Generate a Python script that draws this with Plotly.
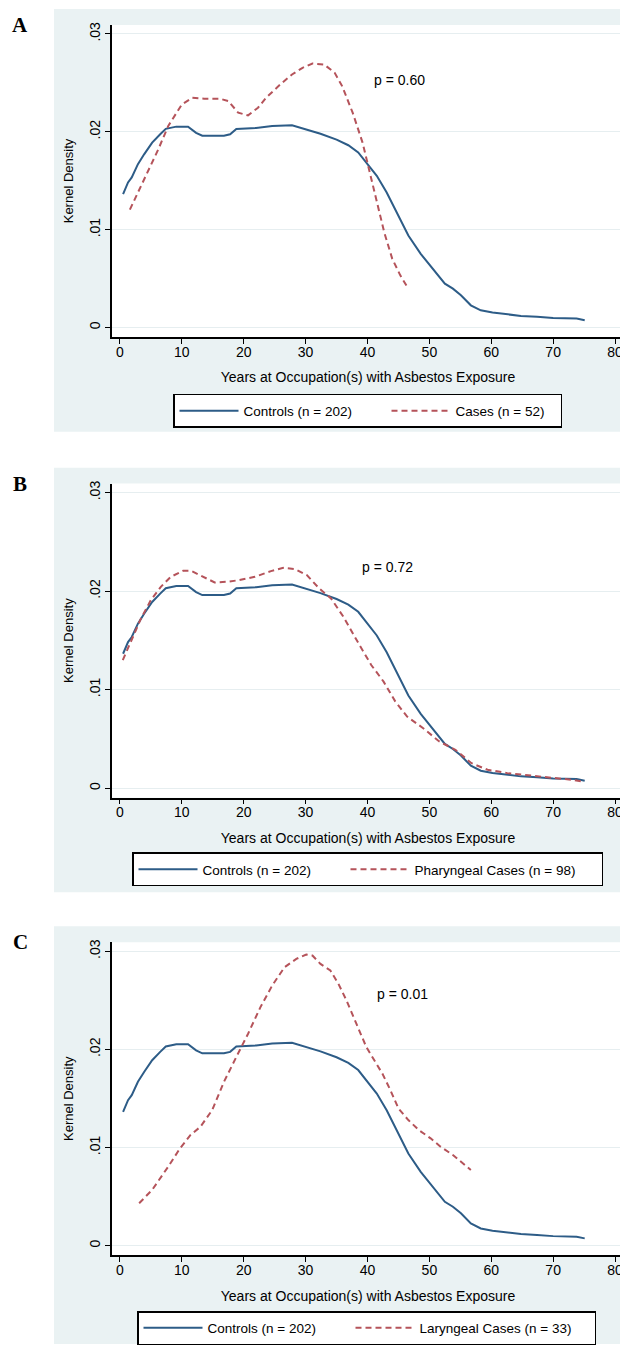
import plotly.graph_objects as go

# ---------------- data ----------------
controls_x = [0.5, 1.3, 1.9, 2.9, 3.9, 5.2, 6.5, 7.4, 9.1, 11.0, 12.3, 13.3, 15.5, 16.8, 17.8, 18.8,
              22.0, 24.6, 27.8, 29.8, 32.4, 35.0, 36.9, 38.5, 40.2, 41.5, 43.1, 44.7, 46.6, 48.6,
              50.5, 52.5, 53.8, 55.1, 56.7, 58.3, 60.2, 62.2, 64.8, 67.4, 70.0, 73.8, 75.1]
controls_y = [0.01364, 0.01483, 0.01534, 0.0167, 0.0177, 0.0189, 0.01975, 0.0203, 0.02053, 0.02053,
              0.0199, 0.0196, 0.0196, 0.0196, 0.01975, 0.0203, 0.0204, 0.0206, 0.02067, 0.0203,
              0.0198, 0.0192, 0.01863, 0.0179, 0.01653, 0.0155, 0.0138, 0.01178, 0.0094, 0.00753,
              0.0060, 0.00448, 0.00397, 0.0033, 0.00227, 0.00176, 0.00153, 0.00136, 0.00119,
              0.00109, 0.00098, 0.00092, 0.00075]

cases_x = [1.6, 3.9, 6.2, 7.8, 10.0, 11.7, 13.6, 16.2, 17.5, 19.1, 20.7, 22.3, 23.6, 25.9, 27.8,
           29.5, 31.1, 33.0, 34.7, 35.9, 37.6, 39.2, 40.5, 41.5, 42.7, 44.0, 45.3, 46.5]
cases_y = [0.01205, 0.01517, 0.01822, 0.0206, 0.0228, 0.02348, 0.02338, 0.02338, 0.02314, 0.02196,
           0.02168, 0.02246, 0.02348, 0.02484, 0.02586, 0.02654, 0.02698, 0.02688, 0.02603,
           0.02467, 0.02196, 0.0189, 0.0155, 0.0128, 0.00974, 0.00702, 0.00533, 0.00407]

pharyngeal_x = [0.45, 1.75, 3.4, 5.0, 6.6, 8.2, 10.2, 11.5, 13.4, 15.3, 17.3, 19.2, 21.8, 24.4,
                26.4, 28.3, 30.2, 32.2, 34.1, 36.1, 38.7, 40.6, 42.6, 44.5, 46.4, 49.0, 51.6,
                54.2, 56.8, 59.4, 62.6, 66.5, 70.4, 73.0, 74.6]
pharyngeal_y = [0.0130, 0.01486, 0.01723, 0.0191, 0.02044, 0.02145, 0.02206, 0.02206, 0.02145,
                0.02088, 0.02095, 0.02111, 0.02145, 0.02203, 0.02236, 0.02223, 0.02162, 0.02027,
                0.01926, 0.0174, 0.01453, 0.0125, 0.01081, 0.00878, 0.00726, 0.00608, 0.00473,
                0.00389, 0.00253, 0.00186, 0.00152, 0.00128, 0.00101, 0.00084, 0.00068]

laryngeal_x = [3.1, 5.2, 7.8, 9.7, 11.4, 13.0, 14.9, 16.8, 18.8, 20.7, 22.7, 24.6, 26.6, 28.5,
               30.1, 31.1, 32.4, 34.0, 35.3, 36.6, 38.2, 39.8, 41.1, 42.4, 43.7, 45.0, 46.6,
               48.3, 50.2, 51.8, 53.8, 55.4, 56.7]
laryngeal_y = [0.00433, 0.00569, 0.00806, 0.00992, 0.01128, 0.01212, 0.01382, 0.01669, 0.01923,
               0.0216, 0.02431, 0.02651, 0.02838, 0.02922, 0.02966, 0.02956, 0.02871, 0.02804,
               0.02668, 0.02499, 0.02262, 0.02025, 0.01889, 0.01754, 0.01585, 0.01398, 0.0128,
               0.01178, 0.01094, 0.01009, 0.00924, 0.0084, 0.00772]

panel_letters = ["A", "B", "C"]
case_labels = ["Cases (n = 52)", "Pharyngeal Cases (n = 98)", "Laryngeal Cases (n = 33)"]
control_label = "Controls (n = 202)"
p_values = ["p = 0.60", "p = 0.72", "p = 0.01"]
p_pos_x = [45.2, 43.2, 45.7]
p_pos_y = [0.0253, 0.0225, 0.0256]

x_tickvals = [0, 10, 20, 30, 40, 50, 60, 70, 80]
y_tickvals = [0, 0.01, 0.02, 0.03]
y_ticktext = ["0", ".01", ".02", ".03"]
x_title = "Years at Occupation(s) with Asbestos Exposure"
y_title = "Kernel Density"

# ---------------- layout geometry ----------------
# the page body has an 8px margin; positions below are screen pixels and are shifted by OFF
OFF = 8
W, H = 620, 1337
NAVY = "#2d5c87"
MAROON = "#b5535a"
BG = "#eaf2f3"
GRID = "#e6eef0"
FONT = "Liberation Sans, Arial, sans-serif"

plot_left, plot_right = 112, 624
panels = [
    dict(bg=(6, 430), plot=(22, 335), leg=(173, 392), leg2w=100),
    dict(bg=(466, 892), plot=(482, 797), leg=(132, 852), leg2w=182),
    dict(bg=(926, 1345), plot=(942, 1256), leg=(137, 1312), leg2w=170),
]

def fx(px):
    return (px - OFF) / W

def fy(py):
    return 1 - (py - OFF) / H

fig = go.Figure()
case_series = [(cases_x, cases_y), (pharyngeal_x, pharyngeal_y), (laryngeal_x, laryngeal_y)]

shapes = []
annotations = []
layout_axes = {}
for i, p in enumerate(panels):
    sfx = "" if i == 0 else str(i + 1)
    leg = "legend" if i == 0 else "legend" + str(i + 1)
    xa, ya = "x" + sfx, "y" + sfx
    fig.add_trace(go.Scatter(x=controls_x, y=controls_y, mode="lines", name=control_label,
                             line=dict(color=NAVY, width=2), xaxis=xa, yaxis=ya, legend=leg,
                             legendwidth=138))
    cx, cy = case_series[i]
    fig.add_trace(go.Scatter(x=cx, y=cy, mode="lines", name=case_labels[i],
                             line=dict(color=MAROON, width=2, dash="6px,4px"),
                             xaxis=xa, yaxis=ya, legend=leg, legendwidth=p["leg2w"]))
    shapes.append(dict(type="rect", xref="paper", yref="paper", x0=fx(54), x1=1,
                       y0=fy(p["bg"][1]), y1=fy(p["bg"][0]), fillcolor=BG, line_width=0, layer="below"))
    shapes.append(dict(type="rect", xref="paper", yref="paper", x0=fx(plot_left), x1=fx(plot_right),
                       y0=fy(p["plot"][1]), y1=fy(p["plot"][0]), fillcolor="white", line_width=0,
                       layer="below"))
    layout_axes["xaxis" + sfx] = dict(
        domain=[fx(plot_left), fx(plot_right)], anchor=ya, range=[-1.29, 81.45],
        tickvals=x_tickvals, showgrid=False, zeroline=False, showline=True, linecolor="black",
        linewidth=1.5, ticks="outside", ticklen=5, tickcolor="black", tickwidth=1.2,
        ticklabelstandoff=-4,
        tickfont=dict(size=14, color="black", family=FONT),
        title=dict(text=x_title, font=dict(size=14, color="black", family=FONT), standoff=14))
    layout_axes["yaxis" + sfx] = dict(
        domain=[fy(p["plot"][1]), fy(p["plot"][0])], anchor=xa, range=[-0.00097, 0.03092],
        tickvals=y_tickvals, ticktext=y_ticktext, tickangle=-90, showgrid=True, gridcolor=GRID,
        gridwidth=1, zeroline=False, showline=True, linecolor="black", linewidth=1.5,
        ticks="outside", ticklen=5, tickcolor="black", tickwidth=1.2,
        tickfont=dict(size=14, color="black", family=FONT),
        title=dict(text=y_title, font=dict(size=13, color="black", family=FONT), standoff=10))
    annotations.append(dict(text=p_values[i], x=p_pos_x[i], y=p_pos_y[i], xref=xa, yref=ya,
                            showarrow=False, font=dict(size=14, color="black", family=FONT)))
    annotations.append(dict(text="<b>" + panel_letters[i] + "</b>", x=fx(20), y=fy(p["plot"][0]),
                            xref="paper", yref="paper", xanchor="center", yanchor="middle",
                            showarrow=False,
                            font=dict(size=21, color="black",
                                      family="Liberation Serif, Times New Roman, serif")))
    layout_axes[leg] = dict(orientation="h", x=fx(p["leg"][0]), y=fy(p["leg"][1]), xanchor="left",
                            yanchor="top", bgcolor="white", bordercolor="black", borderwidth=1.5,
                            font=dict(size=13.5, color="black", family=FONT), itemwidth=59,
                            traceorder="normal")

fig.update_layout(width=W, height=H, margin=dict(l=0, r=0, t=0, b=0),
                  paper_bgcolor="white", plot_bgcolor="rgba(0,0,0,0)",
                  shapes=shapes, annotations=annotations, font=dict(family=FONT, color="black"),
                  **layout_axes)

fig.write_html("out.html")
